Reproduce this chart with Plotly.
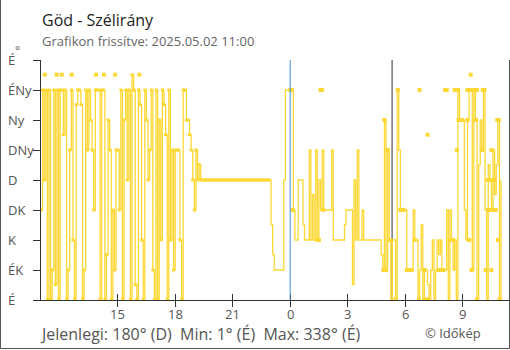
import pandas as pd
import plotly.graph_objects as go

# Wind direction (degrees), 5-minute samples starting 2025-05-01 11:00
day_start = "2025-05-01 11:00"
day_dir = [
    135, 315, 180, 315, 1, 315, 1, 45, 315, 23, 315, 1,        # 11h
    315, 315, 248, 315, 1, 45, 225, 315, 90, 1, 293, 315,      # 12h
    315, 293, 1, 45, 315, 225, 315, 270, 225, 135, 315, 315,   # 13h
    315, 1, 315, 315, 1, 68, 270, 225, 1, 135, 45, 225,        # 14h
    225, 135, 315, 1, 270, 315, 180, 315, 1, 338, 315, 23,     # 15h
    1, 315, 293, 90, 1, 315, 270, 180, 225, 315, 45, 1,        # 16h
    315, 1, 270, 90, 315, 293, 248, 1, 315, 90, 225, 45,       # 17h
    225, 225, 225, 90, 1, 315, 315, 270, 270, 248, 225, 180,   # 18h
    135, 225, 180, 203, 180, 180, 180, 180, 180, 180, 180, 180,  # 19h
    180, 180, 180, 180, 180, 180, 180, 180, 180, 180, 180, 180,  # 20h
    180, 180, 180, 180, 180, 180, 180, 180, 180, 180, 180, 180,  # 21h
    180, 180, 180, 180, 180, 180, 180, 180, 180, 180, 180, 180,  # 22h
]

# Continues from 23:00 up to 2025-05-02 11:00
night_start = "2025-05-01 23:00"
night_dir = [
    113, 68, 45, 45, 45, 45, 45, 45, 180, 315, 315, 315,       # 23h
    315, 315, 135, 90, 90, 180, 180, 180, 113, 90, 90, 90,     # 0h
    225, 90, 158, 90, 225, 90, 180, 135, 225, 135, 135, 135,   # 1h
    135, 135, 225, 90, 90, 90, 90, 90, 90, 90, 113, 135,       # 2h
    135, 135, 135, 23, 180, 90, 225, 90, 90, 135, 90, 90,      # 3h
    90, 90, 90, 90, 90, 90, 90, 90, 90, 68, 45, 270,           # 4h
    45, 225, 90, 1, 90, 90, 1, 315, 225, 135, 135, 135,        # 5h
    135, 45, 45, 45, 45, 135, 90, 90, 1, 45, 113, 1,           # 6h
    45, 45, 23, 1, 45, 90, 1, 45, 90, 68, 90, 45,              # 7h
    45, 45, 135, 1, 135, 90, 45, 90, 1, 315, 270, 270,         # 8h
    270, 135, 90, 270, 315, 315, 45, 315, 270, 1, 203, 270,    # 9h
    225, 315, 135, 1, 203, 180, 135, 225, 158, 203, 270, 1,    # 10h
    180,                                                       # 11:00
]

# Single readings shown as points
point_time = [
    "2025-05-01 11:12", "2025-05-01 11:49", "2025-05-01 12:05", "2025-05-01 12:36",
    "2025-05-01 13:52", "2025-05-01 14:17", "2025-05-01 14:52", "2025-05-01 16:08",
    "2025-05-02 00:00", "2025-05-02 00:05", "2025-05-02 00:08",
    "2025-05-02 01:25", "2025-05-02 01:30", "2025-05-02 01:35", "2025-05-02 01:40", "2025-05-02 01:43",
    "2025-05-02 04:52", "2025-05-02 04:55", "2025-05-02 05:00", "2025-05-02 05:05", "2025-05-02 05:13",
    "2025-05-02 05:30", "2025-05-02 05:37", "2025-05-02 05:45", "2025-05-02 05:50", "2025-05-02 05:55",
    "2025-05-02 06:05", "2025-05-02 06:10", "2025-05-02 06:15", "2025-05-02 06:20", "2025-05-02 06:30",
    "2025-05-02 06:43", "2025-05-02 06:45", "2025-05-02 07:00", "2025-05-02 07:07", "2025-05-02 07:10",
    "2025-05-02 07:12", "2025-05-02 07:45", "2025-05-02 07:50", "2025-05-02 07:55", "2025-05-02 08:00",
    "2025-05-02 08:05", "2025-05-02 08:10", "2025-05-02 08:20", "2025-05-02 08:25", "2025-05-02 08:30",
    "2025-05-02 08:35", "2025-05-02 08:40", "2025-05-02 08:42", "2025-05-02 08:45", "2025-05-02 08:47",
    "2025-05-02 08:52", "2025-05-02 08:58",
    "2025-05-02 09:15", "2025-05-02 09:15", "2025-05-02 09:20", "2025-05-02 09:20", "2025-05-02 09:25",
    "2025-05-02 09:25", "2025-05-02 09:28", "2025-05-02 09:30", "2025-05-02 09:35", "2025-05-02 09:37",
    "2025-05-02 09:40", "2025-05-02 09:42", "2025-05-02 09:45", "2025-05-02 09:45",
    "2025-05-02 10:00", "2025-05-02 10:03", "2025-05-02 10:08", "2025-05-02 10:12", "2025-05-02 10:18",
    "2025-05-02 10:20", "2025-05-02 10:25", "2025-05-02 10:28", "2025-05-02 10:30", "2025-05-02 10:30",
    "2025-05-02 10:33", "2025-05-02 10:35", "2025-05-02 10:40", "2025-05-02 10:43", "2025-05-02 10:48",
    "2025-05-02 10:50", "2025-05-02 10:53", "2025-05-02 10:55",
]
point_dir = [
    338, 338, 338, 338,
    338, 338, 338, 338,
    315, 315, 135,
    90, 90, 315, 315, 135,
    45, 270, 45, 225, 90,
    1, 315, 135, 135, 135,
    45, 45, 45, 45, 90,
    1, 315, 45, 1, 248,
    1, 45, 45, 45, 45,
    315, 315, 90, 90, 90,
    315, 315, 225, 315, 270,
    270, 270,
    270, 315, 315, 90, 315,
    338, 45, 315, 315, 270,
    315, 270, 315, 1,
    225, 315, 315, 45, 180,
    135, 180, 135, 225, 45,
    180, 135, 180, 135, 270,
    90, 270, 1,
]

dir_ticks = [0, 45, 90, 135, 180, 225, 270, 315, 360]
dir_labels = ["É", "ÉK", "K", "DK", "D", "DNy", "Ny", "ÉNy", "É"]

hour_ticks = ["2025-05-01 15:00", "2025-05-01 18:00", "2025-05-01 21:00", "2025-05-02 00:00",
              "2025-05-02 03:00", "2025-05-02 06:00", "2025-05-02 09:00"]
hour_labels = ["15", "18", "21", "0", "3", "6", "9"]

x_range = ["2025-05-01 11:00", "2025-05-02 11:25"]
midnight = "2025-05-02 00:00"
sunrise = "2025-05-02 05:19"

title = "Göd - Szélirány"
subtitle = "Grafikon frissítve: 2025.05.02 11:00"
footer = "Jelenlegi: 180° (D)  Min: 1° (É)  Max: 338° (É)"
credit = "© Időkép"

W, H = 510, 350
ML, MR, MT, MB = 41, 1, 60, 50
PW, PH = W - ML - MR, H - MT - MB

YELLOW = "#fdd835"
AXIS = "#333333"
TEXT = "#555555"
FONT = "Open Sans"


def px(x):
    return (x - ML) / PW


def py(y):
    return (H - MB - y) / PH


day_t = pd.date_range(day_start, periods=len(day_dir), freq="5min")
night_t = pd.date_range(night_start, periods=len(night_dir), freq="5min")
all_t = list(day_t) + list(night_t)
all_dir = day_dir + night_dir

fig = go.Figure()
fig.add_trace(go.Scatter(
    x=all_t, y=all_dir, mode="lines", line=dict(color=YELLOW, width=1.3, shape="hv"),
    hoverinfo="skip", showlegend=False,
))
fig.add_trace(go.Scatter(
    x=day_t, y=day_dir, mode="markers",
    marker=dict(color=YELLOW, size=3, symbol="square", line=dict(width=0)),
    hoverinfo="skip", showlegend=False,
))
fig.add_trace(go.Scatter(
    x=pd.to_datetime(point_time), y=point_dir, mode="markers",
    marker=dict(color=YELLOW, size=4, symbol="square", line=dict(width=0)),
    hoverinfo="skip", showlegend=False,
))
# invisible trace to activate the mirrored tick axis
fig.add_trace(go.Scatter(x=x_range, y=[None, None], xaxis="x2", showlegend=False, hoverinfo="skip"))

fig.update_layout(
    width=W, height=H,
    margin=dict(l=ML, r=MR, t=MT, b=MB),
    paper_bgcolor="white", plot_bgcolor="white",
    font=dict(family=FONT, color=TEXT, size=13),
    xaxis=dict(
        type="date", range=x_range, tickvals=hour_ticks, showticklabels=False,
        showgrid=False, zeroline=False, showline=True, linecolor=AXIS, linewidth=1,
        ticks="outside", ticklen=6, tickcolor=AXIS,
    ),
    xaxis2=dict(
        type="date", range=x_range, tickvals=hour_ticks, overlaying="x", side="bottom",
        showticklabels=False, showgrid=False, zeroline=False, showline=False,
        ticks="inside", ticklen=6, tickcolor=AXIS,
    ),
    yaxis=dict(
        range=[0, 360], tickvals=dir_ticks, showticklabels=False,
        showgrid=False, zeroline=False, showline=True, linecolor=AXIS, linewidth=1,
        ticks="outside", ticklen=7, tickcolor=AXIS,
    ),
)

# hour labels under the axis
for t, lab in zip(hour_ticks, hour_labels):
    fig.add_annotation(x=t, y=py(314), xref="x", yref="paper", text=lab, showarrow=False,
                       xanchor="center", yanchor="middle", borderpad=0,
                       font=dict(size=13, color=TEXT))

# direction labels, left-aligned at the chart edge
for v, lab in zip(dir_ticks, dir_labels):
    fig.add_annotation(x=px(6), y=v, xref="paper", yref="y", text=lab, showarrow=False,
                       xanchor="left", yanchor="middle", font=dict(size=13, color=TEXT))
fig.add_annotation(x=px(13), y=py(51), xref="paper", yref="paper", text="°", showarrow=False,
                   xanchor="left", yanchor="middle", font=dict(size=12, color=TEXT))

fig.add_annotation(x=px(40), y=py(20), xref="paper", yref="paper", text=title, showarrow=False,
                   xanchor="left", yanchor="middle", font=dict(size=16, color="#222222"))
fig.add_annotation(x=px(40), y=py(41), xref="paper", yref="paper", text=subtitle, showarrow=False,
                   xanchor="left", yanchor="middle", font=dict(size=13, color="#666666"))
fig.add_annotation(x=px(39), y=py(334), xref="paper", yref="paper", text=footer, showarrow=False,
                   xanchor="left", yanchor="middle", borderpad=0, font=dict(size=16, color=TEXT))
fig.add_annotation(x=px(482), y=py(333), xref="paper", yref="paper", text=credit, showarrow=False,
                   xanchor="right", yanchor="middle", borderpad=0, font=dict(size=13, color=TEXT))

# midnight and sunrise markers
fig.add_shape(type="line", x0=midnight, x1=midnight, y0=0, y1=1, xref="x", yref="paper",
              line=dict(color="#3d8fd1", width=1), layer="above")
fig.add_shape(type="line", x0=sunrise, x1=sunrise, y0=0, y1=1, xref="x", yref="paper",
              line=dict(color=AXIS, width=1), layer="below")

# frame
fig.add_shape(type="line", xref="paper", yref="paper", x0=px(0.5), x1=px(0.5), y0=py(0), y1=py(348.5),
              line=dict(color=TEXT, width=1))
fig.add_shape(type="line", xref="paper", yref="paper", x0=px(0.5), x1=px(509.5), y0=py(348.5), y1=py(348.5),
              line=dict(color=TEXT, width=1))
fig.add_shape(type="line", xref="paper", yref="paper", x0=px(509.5), x1=px(509.5), y0=py(60), y1=py(348.5),
              line=dict(color=TEXT, width=1))

fig.write_html("out.html")
